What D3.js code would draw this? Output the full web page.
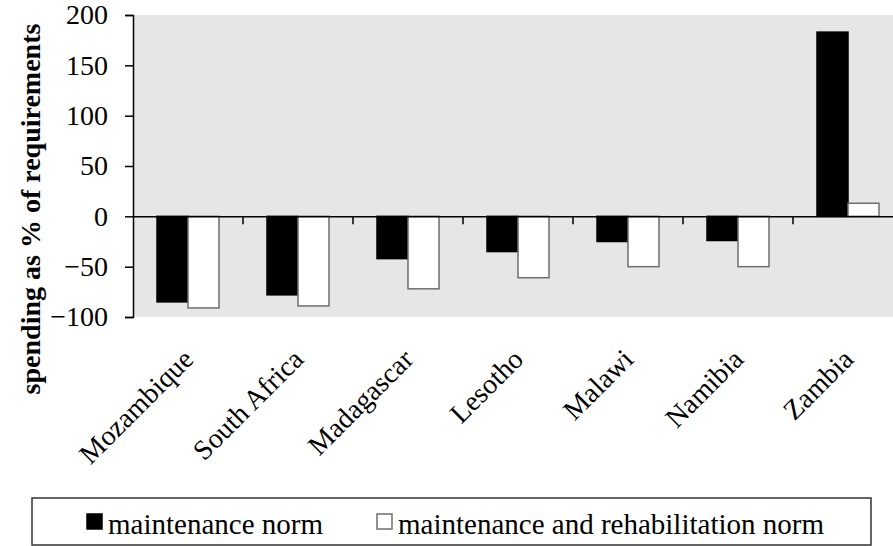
<!DOCTYPE html>
<html>
<head>
<meta charset="utf-8">
<script src="https://cdn.jsdelivr.net/npm/d3@7"></script>
<style>
  body { margin: 0; background: #fff; }
  svg { display: block; font-family: "Liberation Serif", "DejaVu Serif", serif; }
</style>
</head>
<body>
<svg id="chart" width="893" height="546"></svg>
<script>
var countries = ["Mozambique", "South Africa", "Madagascar", "Lesotho", "Malawi", "Namibia", "Zambia"];
var seriesNames = ["maintenance norm", "maintenance and rehabilitation norm"];
var maintenance = [-85, -78, -42, -35, -25, -24, 183];
var rehabilitation = [-91, -89, -72, -61, -50, -50, 13];
var yTicks = [-100, -50, 0, 50, 100, 150, 200];

var svg = d3.select("#chart");

// plot frame (runs past the right edge, as in the picture)
var plotLeft = 133, plotRight = 903, plotTop = 15, plotBottom = 317;

var x = d3.scaleBand()
  .domain(countries)
  .range([plotLeft, plotRight])
  .padding(0);

var inner = d3.scaleBand()
  .domain(seriesNames)
  .range([24, 86])
  .padding(0);

var y = d3.scaleLinear()
  .domain([-100, 200])
  .range([plotBottom, plotTop]);

var fills = {"maintenance norm": "#000", "maintenance and rehabilitation norm": "#fff"};
var strokes = {"maintenance norm": "#000", "maintenance and rehabilitation norm": "#6e6e6e"};

// grey background
svg.append("rect")
  .attr("x", plotLeft)
  .attr("y", plotTop)
  .attr("width", plotRight - plotLeft)
  .attr("height", plotBottom - plotTop)
  .style("fill", "#e6e6e6");

// bars
var rows = countries.map(function(c, i){
  return {country: c, values: [
    {name: seriesNames[0], value: maintenance[i]},
    {name: seriesNames[1], value: rehabilitation[i]}
  ]};
});

var groups = svg.append("g").selectAll("g")
  .data(rows)
  .join("g")
  .attr("transform", function(d){ return "translate(" + x(d.country) + ",0)"; });

groups.selectAll("rect")
  .data(function(d){ return d.values; })
  .join("rect")
  .attr("x", function(d){ return inner(d.name); })
  .attr("width", inner.bandwidth())
  .attr("y", function(d){ return y(Math.max(0, d.value)); })
  .attr("height", function(d){ return Math.abs(y(d.value) - y(0)); })
  .style("fill", function(d){ return fills[d.name]; })
  .style("stroke", function(d){ return strokes[d.name]; })
  .style("stroke-width", 1.5);

// y axis
var yAxis = d3.axisLeft(y)
  .tickValues(yTicks)
  .tickSize(8)
  .tickSizeOuter(8)
  .tickPadding(17);

var yG = svg.append("g")
  .attr("transform", "translate(" + plotLeft + ",0)")
  .call(yAxis);

yG.select(".domain").style("stroke", "#000").style("stroke-width", 1.5);
yG.selectAll(".tick line").style("stroke", "#000").style("stroke-width", 1.5);
yG.selectAll(".tick text")
  .style("font-family", "Liberation Serif, serif")
  .style("font-size", "28px")
  .style("fill", "#000");

// x axis on the zero line, category ticks at band edges
var xAxis = d3.axisBottom(x)
  .tickSize(0)
  .tickSizeOuter(0);

var xG = svg.append("g")
  .attr("transform", "translate(0," + y(0) + ")")
  .call(xAxis);

xG.select(".domain").style("stroke", "#000").style("stroke-width", 1.5);

xG.selectAll(".tick text")
  .attr("x", 0)
  .attr("y", 0)
  .attr("dy", 0)
  .attr("transform", "translate(7," + (361 - y(0)) + ") rotate(-45)")
  .style("text-anchor", "end")
  .style("font-family", "Liberation Serif, serif")
  .style("font-size", "28px")
  .style("fill", "#000");

xG.selectAll(".edge")
  .data(countries.slice(1))
  .join("line")
  .attr("class", "edge")
  .attr("x1", function(d){ return x(d); })
  .attr("x2", function(d){ return x(d); })
  .attr("y1", 0)
  .attr("y2", 8)
  .style("stroke", "#000")
  .style("stroke-width", 1.5);

// y axis title
svg.append("text")
  .attr("transform", "translate(40," + ((plotTop + 403) / 2) + ") rotate(-90)")
  .style("text-anchor", "middle")
  .style("font-size", "28px")
  .style("font-weight", "bold")
  .style("fill", "#000")
  .text("spending as % of requirements");

// legend
var legend = svg.append("g");

legend.append("rect")
  .attr("x", 32)
  .attr("y", 498)
  .attr("width", 839)
  .attr("height", 47)
  .style("fill", "#fff")
  .style("stroke", "#333")
  .style("stroke-width", 1.5);

var legendX = [87, 377];

var items = legend.selectAll(".item")
  .data(seriesNames)
  .join("g")
  .attr("class", "item")
  .attr("transform", function(d, i){ return "translate(" + legendX[i] + ",0)"; });

items.append("rect")
  .attr("x", 0)
  .attr("y", 514)
  .attr("width", 15)
  .attr("height", 15)
  .style("fill", function(d){ return fills[d]; })
  .style("stroke", function(d){ return strokes[d]; })
  .style("stroke-width", 1.5);

items.append("text")
  .attr("x", 21)
  .attr("y", 534)
  .style("font-size", "29px")
  .style("fill", "#000")
  .text(function(d){ return d; });
</script>
</body>
</html>
